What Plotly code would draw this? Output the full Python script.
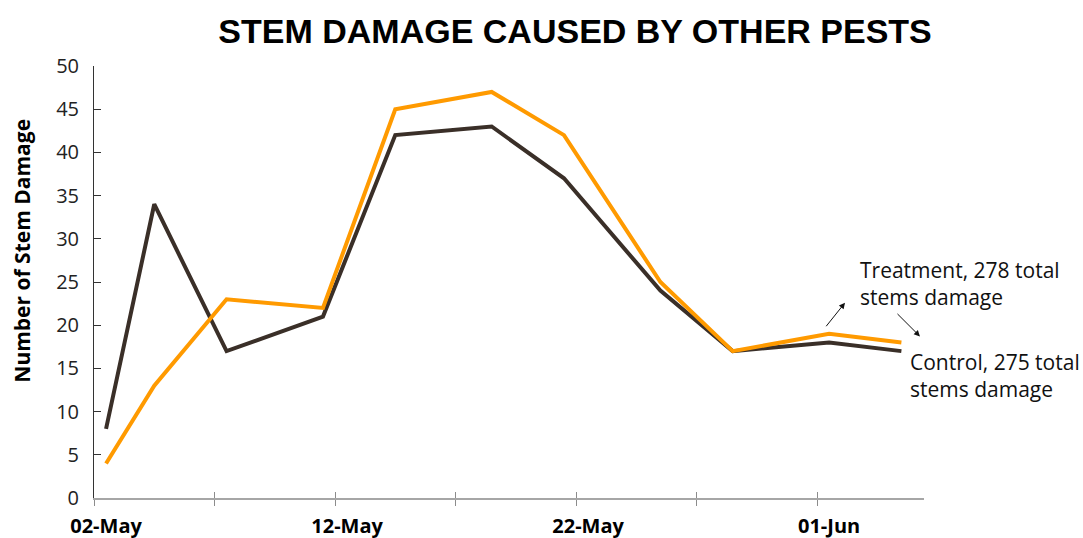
import plotly.graph_objects as go

dates = ["2023-05-02", "2023-05-04", "2023-05-07", "2023-05-11", "2023-05-14",
         "2023-05-18", "2023-05-21", "2023-05-25", "2023-05-28", "2023-06-01", "2023-06-04"]
control = [8, 34, 17, 21, 42, 43, 37, 24, 17, 18, 17]
treatment = [4, 13, 23, 22, 45, 47, 42, 25, 17, 19, 18]

label_dates = ["2023-05-02", "2023-05-12", "2023-05-22", "2023-06-01"]
label_text = ["02-May", "12-May", "22-May", "01-Jun"]
boundary_ticks = ["2023-05-01 12:00", "2023-05-06 12:00", "2023-05-11 12:00", "2023-05-16 12:00",
                  "2023-05-21 12:00", "2023-05-26 12:00", "2023-05-31 12:00"]
x_range = ["2023-05-01 12:00", "2023-06-04 22:30"]

DARK = "#3a2f28"
ORANGE = "#ff9a00"

fig = go.Figure()
fig.add_trace(go.Scatter(x=dates, y=control, mode="lines", name="Control",
                         line=dict(color=DARK, width=4), cliponaxis=False))
fig.add_trace(go.Scatter(x=dates, y=treatment, mode="lines", name="Treatment",
                         line=dict(color=ORANGE, width=4), cliponaxis=False))
# invisible trace to bring the overlay axis into existence
fig.add_trace(go.Scatter(x=[dates[0]], y=[control[0]], xaxis="x2", mode="lines",
                         showlegend=False, hoverinfo="skip", line=dict(width=0)))

fig.update_layout(
    width=1083, height=538,
    margin=dict(l=94, r=159, t=66, b=40),
    paper_bgcolor="white", plot_bgcolor="white",
    showlegend=False,
    title=dict(text="<b>STEM DAMAGE CAUSED BY OTHER PESTS</b>", x=0.531, xanchor="center",
               y=0.942, yanchor="middle",
               font=dict(family="Liberation Sans, Arial", size=34, color="black")),
    xaxis=dict(type="date", range=x_range, tickmode="array", tickvals=label_dates, ticktext=label_text,
               ticks="", showgrid=False, zeroline=False, ticklabelstandoff=9, automargin=False,
               showline=True, linecolor="#a6a6a6", linewidth=2,
               tickfont=dict(family="Open Sans", size=20, color="black", weight="bold"),
               minor=dict(tickmode="array", tickvals=boundary_ticks, ticks="outside", ticklen=6,
                          tickcolor="#8c8c8c", tickwidth=1, showgrid=False)),
    xaxis2=dict(type="date", overlaying="x", range=x_range, showticklabels=False, automargin=False,
                tickmode="array", tickvals=boundary_ticks, ticks="inside", ticklen=6,
                tickcolor="#8c8c8c", tickwidth=1, showgrid=False, showline=False, zeroline=False,
                side="bottom", anchor="y"),
    yaxis=dict(range=[0, 50], tickmode="linear", tick0=0, dtick=5, ticks="inside", ticklen=7,
               tickcolor="#333333", tickwidth=1, showgrid=False, zeroline=False, automargin=False,
               showline=True, linecolor="#333333", linewidth=1, ticklabelstandoff=10,
               tickfont=dict(family="Open Sans", size=20, color="#222222")),
)

# y-axis title (placed as annotation to match the reference's vertical offset)
fig.add_annotation(x=-0.087, y=0.572, xref="paper", yref="paper", xanchor="center", yanchor="middle",
                   text="<b>Number of Stem Damage</b>", textangle=-90, showarrow=False,
                   font=dict(family="Open Sans", size=21, color="black"))

fig.add_annotation(x="2023-06-02 05:00", y=24.8, xref="x", yref="y", xanchor="left", yanchor="middle",
                   text="Treatment, 278 total<br>stems damage", showarrow=False, align="left",
                   font=dict(family="Open Sans", size=21, color="#111111"))
fig.add_annotation(x="2023-06-04 06:45", y=14.2, xref="x", yref="y", xanchor="left", yanchor="middle",
                   text="Control, 275 total<br>stems damage", showarrow=False, align="left",
                   font=dict(family="Open Sans", size=21, color="#111111"))
fig.add_annotation(x="2023-06-01 15:50", y=22.6, xref="x", yref="y", ax=-20, ay=25, text="",
                   showarrow=True, arrowhead=2, arrowsize=1.2, arrowwidth=1, arrowcolor="#111111")
fig.add_annotation(x="2023-06-04 18:30", y=18.7, xref="x", yref="y", ax=-24, ay=-24, text="",
                   showarrow=True, arrowhead=2, arrowsize=1.2, arrowwidth=1, arrowcolor="#111111")

fig.write_html("out.html")
